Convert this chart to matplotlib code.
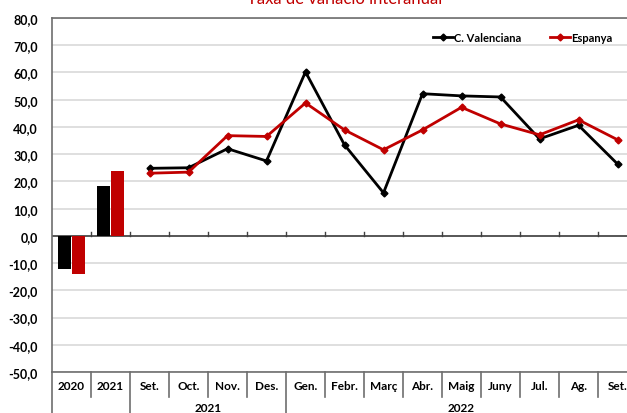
import matplotlib
matplotlib.use("Agg")
import matplotlib.pyplot as plt
import matplotlib.transforms as mtransforms
import numpy as np

# category labels (first row) and groups (second row)
categories = ["2020", "2021", "Set.", "Oct.", "Nov.", "Des.", "Gen.", "Febr.",
              "Març", "Abr.", "Maig", "Juny", "Jul.", "Ag.", "Set."]
groups = [("2021", 2, 5), ("2022", 6, 14)]

# annual bars (2020, 2021)
bar_valenciana = [-12.0, 18.4]
bar_espanya = [-14.0, 23.8]

# monthly lines (Set. 2021 .. Set. 2022)
line_valenciana = [24.8, 25.0, 32.0, 27.5, 60.2, 33.4, 15.8, 52.2, 51.4, 51.0, 35.6, 40.6, 26.4]
line_espanya = [23.0, 23.4, 36.8, 36.5, 48.8, 38.9, 31.6, 38.9, 47.2, 41.1, 37.1, 42.6, 35.3]

yticks = np.arange(-50, 81, 10)

BLACK = "#000000"
RED = "#C00000"
FONT = "Lato"

fig = plt.figure(figsize=(6.27, 4.14), dpi=100)
ax = fig.add_axes([52 / 627, 1 - 373 / 414, 585 / 627, 354 / 414])

# bars
xb = np.arange(len(bar_valenciana))
w = 0.33
ax.bar(xb - 0.18, bar_valenciana, width=w, color=BLACK, zorder=3)
ax.bar(xb + 0.18, bar_espanya, width=w, color=RED, zorder=3)

# lines
xl = np.arange(2, 2 + len(line_valenciana))
ax.plot(xl, line_valenciana, color=BLACK, lw=2, marker="D", ms=3.5,
        label="C. Valenciana", zorder=4)
ax.plot(xl, line_espanya, color=RED, lw=2, marker="D", ms=3.5,
        label="Espanya", zorder=4)

ax.set_xlim(-0.5, len(categories) - 0.5)
ax.set_ylim(-50, 80)
ax.set_yticks(yticks)
ax.set_yticklabels([f"{v:.1f}".replace(".", ",") for v in yticks],
                   fontfamily=FONT, fontweight="bold", fontsize=9)
ax.tick_params(axis="y", length=0, pad=10)
ax.set_xticks([])
ax.yaxis.grid(True, color="#D9D9D9", lw=1.2, zorder=0)
ax.set_axisbelow(True)

for s in ["top", "left", "right", "bottom"]:
    ax.spines[s].set_color("#6E6E6E")
    ax.spines[s].set_linewidth(1.2)

# zero line with small ticks at category boundaries
ax.axhline(0, color="#404040", lw=1.2, zorder=2)
for b in np.arange(0.5, len(categories) - 0.5, 1):
    ax.plot([b, b], [0, 1.5], color="#404040", lw=1, zorder=2)

# category table under the axis
tr = mtransforms.blended_transform_factory(ax.transData, ax.transAxes)
for i, c in enumerate(categories):
    ax.text(i, -0.037, c, transform=tr, ha="center", va="center",
            fontfamily=FONT, fontweight="bold", fontsize=8.5)
long_bounds = [-0.5, 1.5, 5.5]
for b in np.arange(-0.5, len(categories), 1):
    y0 = -0.12 if b in long_bounds else -0.072
    ax.plot([b, b], [0, y0], transform=tr, color="#6E6E6E", lw=1.2, clip_on=False)
for name, a, z in groups:
    ax.text((a + z) / 2, -0.099, name, transform=tr, ha="center", va="center",
            fontfamily=FONT, fontweight="bold", fontsize=8.5)

leg = ax.legend(loc="upper right", bbox_to_anchor=(0.975, 0.99), ncol=2, frameon=False,
                prop={"family": FONT, "weight": "bold", "size": 8},
                handlelength=1.8, handletextpad=0.1, columnspacing=2.6)

fig.text(345 / 627, 1 - 4 / 414, "Taxa de variació interanual", color=RED,
         ha="center", va="baseline", fontfamily=FONT, fontsize=12)

fig.savefig("out.png", dpi=100)
